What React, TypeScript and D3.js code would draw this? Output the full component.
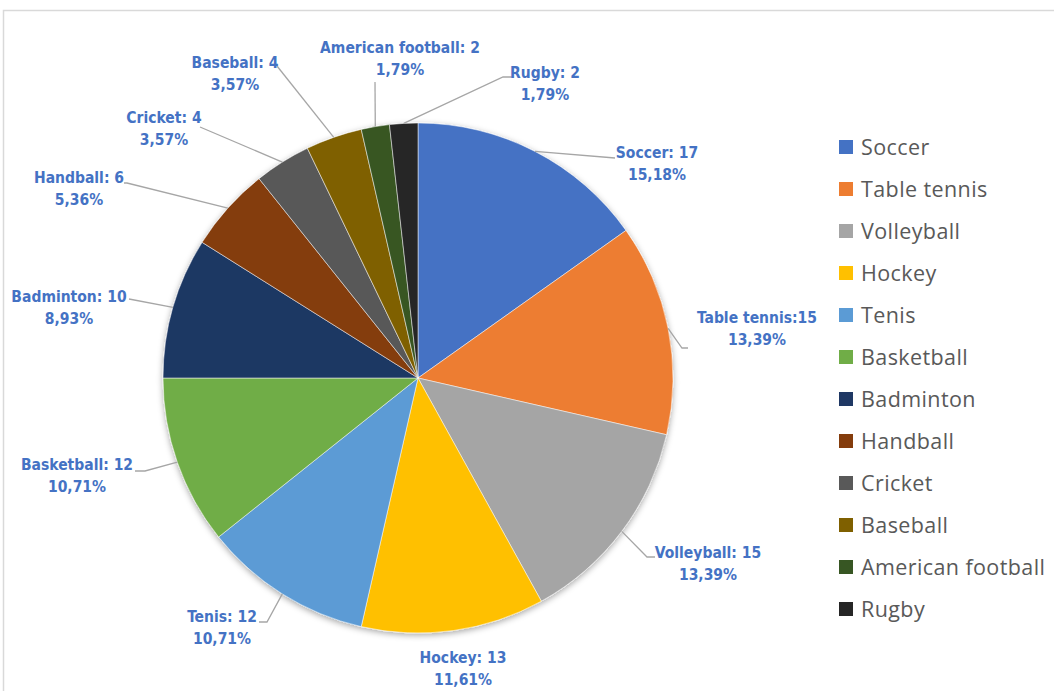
import React from "react";
import * as d3 from "d3";

const categories = ["Soccer", "Table tennis", "Volleyball", "Hockey", "Tenis", "Basketball", "Badminton", "Handball", "Cricket", "Baseball", "American football", "Rugby"];
const values = [17, 15, 15, 13, 12, 12, 10, 6, 4, 4, 2, 2];
const labelNames = ["Soccer: 17", "Table tennis:15", "Volleyball: 15", "Hockey: 13", "Tenis: 12", "Basketball: 12", "Badminton: 10", "Handball: 6", "Cricket: 4", "Baseball: 4", "American football: 2", "Rugby: 2"];
const colors = ["#4472C4", "#ED7D31", "#A5A5A5", "#FFC000", "#5B9BD5", "#70AD47", "#1F3864", "#843C0C", "#595959", "#7F6000", "#375623", "#262626"];

// label layout (relative to pie centre): text centre and leader-line bend points
const labelPos: [number, number][] = [
  [239, -225], [339, -60], [290, 175], [45, 280], [-196, 239], [-341, 87],
  [-349, -81], [-339, -200], [-254, -260], [-183, -315], [-18, -330], [127, -305],
];
const leaderPts: [number, number][][] = [
  [[197, -220]],
  [[264, -30], [270, -30]],
  [[229, 179], [237, 179]],
  [],
  [[-151, 244], [-159, 244]],
  [[-273, 93], [-283, 93]],
  [[-289, -79]],
  [[-291, -195], [-294, -195]],
  [[-218, -251]],
  [[-141, -312]],
  [[-43, -296]],
  [[85, -301], [94, -301]],
];

const W = 1054, H = 691;
const cx = 418, cy = 378, R = 255;

export default function App() {
  const total = d3.sum(values);
  const pie = d3.pie<number>().sort(null).value((d) => d)(values);
  const arc = d3.arc<d3.PieArcDatum<number>>().innerRadius(0).outerRadius(R);
  const fmt = (v: number) => ((v / total) * 100).toFixed(2).replace(".", ",") + "%";
  const legendY = d3.scalePoint<string>().domain(categories).range([147, 609]);

  return (
    <svg width={W} height={H} style={{ position: "absolute", left: 0, top: 0, background: "#fff" }}>
      <defs>
        <filter id="sh" x="-20%" y="-20%" width="140%" height="140%">
          <feDropShadow dx="0" dy="2" stdDeviation="3" floodColor="#000" floodOpacity="0.35" />
        </filter>
      </defs>
      <rect x={3.5} y={10.5} width={1200} height={800} fill="#fff" stroke="#D9D9D9" strokeWidth={1.5} />
      <g transform={`translate(${cx},${cy})`}>
        <g filter="url(#sh)">
          {pie.map((d, i) => (
            <path key={i} d={arc(d) || ""} fill={colors[i]} stroke="#fff" strokeWidth={0.5} />
          ))}
        </g>
        {pie.map((d, i) => {
          const mid = (d.startAngle + d.endAngle) / 2;
          const start: [number, number] = [R * Math.sin(mid), -R * Math.cos(mid)];
          const pts = [start, ...leaderPts[i]];
          if (leaderPts[i].length === 0) return null;
          return (
            <polyline key={"l" + i} points={pts.map((p) => p.join(",")).join(" ")} fill="none" stroke="#A6A6A6" strokeWidth={1.3} />
          );
        })}
        {pie.map((d, i) => (
          <text key={"t" + i} x={labelPos[i][0]} y={labelPos[i][1]} textAnchor="middle" fill="#4472C4"
            style={{ font: "bold 15.5px 'Liberation Sans Narrow', 'DejaVu Sans Condensed', 'Liberation Sans', sans-serif" }}>
            <tspan x={labelPos[i][0]} dy="0.35em">{labelNames[i]}</tspan>
            <tspan x={labelPos[i][0]} dy="22">{fmt(values[i])}</tspan>
          </text>
        ))}
      </g>
      <g>
        {categories.map((c, i) => (
          <g key={c} transform={`translate(839,${legendY(c)})`}>
            <rect x={0} y={-7} width={14} height={14} fill={colors[i]} />
            <text x={22} y={0} dy="0.35em" fill="#595959" style={{ font: "21.5px 'Open Sans', sans-serif", letterSpacing: "0.4px" }}>{c}</text>
          </g>
        ))}
      </g>
    </svg>
  );
}
